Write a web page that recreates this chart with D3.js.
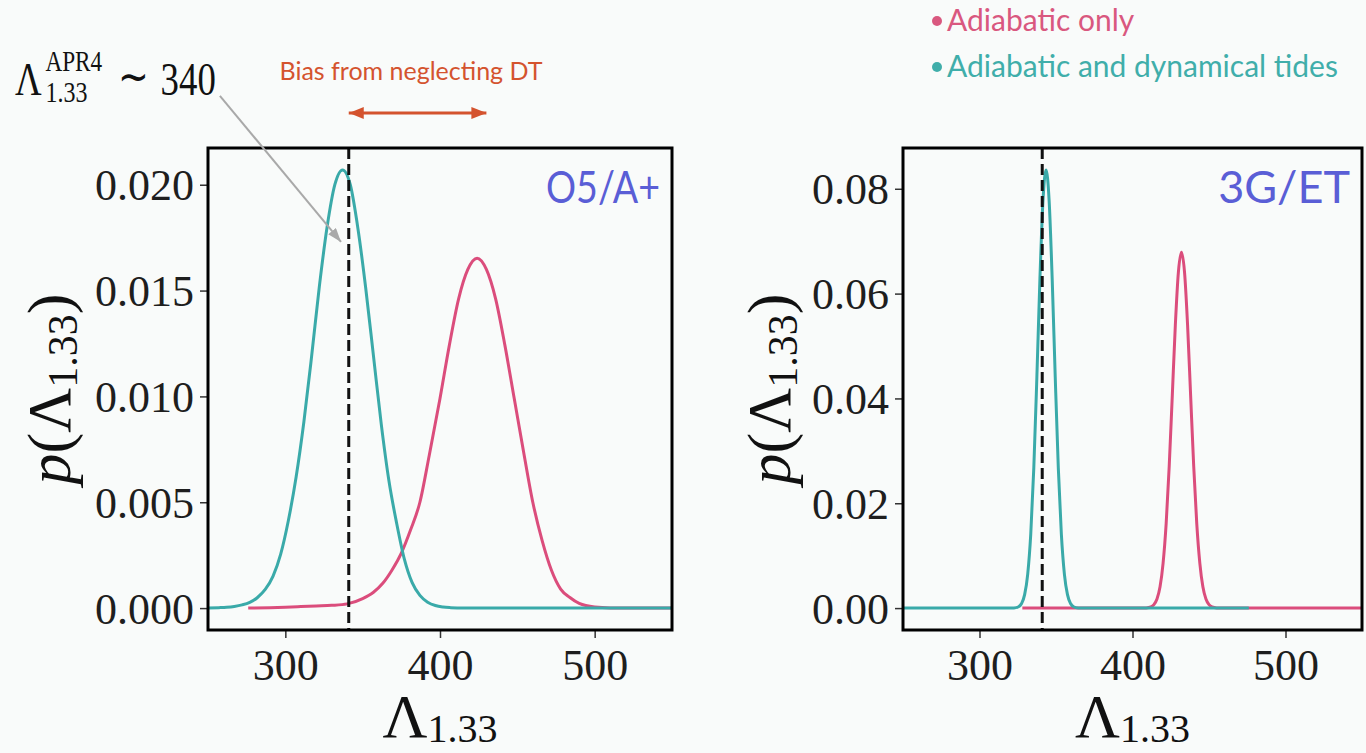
<!DOCTYPE html>
<html>
<head>
<meta charset="utf-8">
<script src="https://cdn.jsdelivr.net/npm/d3@7"></script>
<style>
  body { margin: 0; background: #f9fbfa; }
  svg { display: block; }
  .tick text { font-family: "Liberation Serif", serif; font-size: 44px; fill: #1e1e1e; }
  .tick line { stroke: #333; stroke-width: 1.5; }
  .math { font-family: "Liberation Serif", serif; fill: #111; }
  .sans { font-family: Lato, "Noto Sans", sans-serif; }
</style>
</head>
<body>
<div id="wrapper"></div>
<script>

// 1. Data

const lambdaDomain = [250, 550];
const lambdaTicks = [300, 400, 500];
const apr4Lambda = 341;            // Λ_1.33^APR4 ~ 340 (dashed line)
const biasRange = [341, 430];      // "Bias from neglecting DT" arrow

// O5/A+ : adiabatic + dynamical tides (teal)
const o5TidalLambda = [250, 257, 262, 267, 272, 277, 282, 287, 292, 297, 302, 307, 312, 317, 322, 327,
  332, 337, 342, 347, 352, 357, 362, 367, 372, 377, 382, 387, 392, 397, 402, 407, 415, 550];
const o5TidalDensity = [0, 0.00002, 0.00004, 0.00008, 0.00015, 0.00027, 0.00050, 0.00088, 0.00150,
  0.00255, 0.00415, 0.00620, 0.00880, 0.01190, 0.01520, 0.01800, 0.02000, 0.02070, 0.02000, 0.01790,
  0.01510, 0.01190, 0.00870, 0.00600, 0.00400, 0.00230, 0.00120, 0.00060, 0.00028, 0.00012, 0.00005,
  0.00002, 0, 0];

// O5/A+ : adiabatic only (pink)
const o5AdiabaticLambda = [276, 290, 300, 310, 320, 330, 340, 350, 357, 363, 369, 375, 381, 387, 393,
  400, 406, 412, 418, 424, 430, 436, 442, 448, 454, 460, 466, 472, 478, 484, 490, 500, 510, 550];
const o5AdiabaticDensity = [0, 0.00002, 0.00004, 0.00007, 0.00010, 0.00013, 0.00020, 0.00045, 0.00075,
  0.00117, 0.00180, 0.00260, 0.00370, 0.00500, 0.00720, 0.00990, 0.01240, 0.01460, 0.01600, 0.01653,
  0.01600, 0.01460, 0.01240, 0.00990, 0.00740, 0.00500, 0.00320, 0.00180, 0.00090, 0.00050, 0.00022,
  0.00005, 0.00001, 0];

// 3G/ET : adiabatic + dynamical tides (teal)
const etTidalLambda = [250, 320, 322.5, 325.5, 327.5, 329.5, 331.5, 333.5, 335.5, 337.5, 339.5, 341.5,
  343.5, 345.5, 347.5, 349.5, 351.5, 353.5, 355.5, 357.5, 359.5, 361.5, 364.5, 370, 476];
const etTidalDensity = [0, 0, 0.00003, 0.00026, 0.00088, 0.00256, 0.00645, 0.0141, 0.0268, 0.0441,
  0.0629, 0.0778, 0.0836, 0.0778, 0.0629, 0.0441, 0.0268, 0.0141, 0.00645, 0.00256, 0.00088, 0.00026,
  0.00003, 0, 0];

// 3G/ET : adiabatic only (pink)
const etAdiabaticLambda = [328, 400, 409, 412, 414, 416, 418, 420, 422, 424, 426, 428, 430, 432, 434,
  436, 438, 440, 442, 444, 446, 448, 450, 452, 455, 465, 550];
const etAdiabaticDensity = [0, 0, 0.00004, 0.00022, 0.00065, 0.00172, 0.00406, 0.00858, 0.0161, 0.0271,
  0.0405, 0.0540, 0.0641, 0.0679, 0.0641, 0.0540, 0.0405, 0.0271, 0.0161, 0.00858, 0.00406, 0.00172,
  0.00065, 0.00022, 0.00004, 0, 0];

const o5DensityTicks = [0, 0.005, 0.010, 0.015, 0.020];
const etDensityTicks = [0, 0.02, 0.04, 0.06, 0.08];

const legendLabels = ["Adiabatic only", "Adiabatic and dynamical tides"];

function drawChart() {

  // 2. Dimensions

  const dimensions = {
    width: 1366,
    height: 753,
    top: 148,
    bottom: 630,
  };

  const colors = {
    adiabatic: "#db4d7c",
    tidal: "#3aaaa9",
    legendAdiabatic: "#d9587f",
    legendTidal: "#40aeaa",
    title: "#5a5ed6",
    bias: "#d4532e",
    pointer: "#a9a9a9",
  };

  const panels = [
    {
      left: 208, right: 672, title: "O5/A+", titleWidth: 114, yTicks: o5DensityTicks, yFormat: ".3f", labelX: 70,
      series: [
        { lambda: o5AdiabaticLambda, density: o5AdiabaticDensity, color: colors.adiabatic },
        { lambda: o5TidalLambda, density: o5TidalDensity, color: colors.tidal },
      ],
    },
    {
      left: 903, right: 1362, title: "3G/ET", titleWidth: null, yTicks: etDensityTicks, yFormat: ".2f", labelX: 790,
      series: [
        { lambda: etAdiabaticLambda, density: etAdiabaticDensity, color: colors.adiabatic },
        { lambda: etTidalLambda, density: etTidalDensity, color: colors.tidal },
      ],
    },
  ];

  // 3. Canvas

  const wrapper = d3.select("#wrapper")
    .append("svg")
    .attr("width", dimensions.width)
    .attr("height", dimensions.height);

  wrapper.append("rect")
    .attr("width", dimensions.width)
    .attr("height", dimensions.height)
    .attr("fill", "#f9fbfa");

  const defs = wrapper.append("defs");
  const addMarker = (id, color, len, half) => {
    defs.append("marker")
      .attr("id", id)
      .attr("markerUnits", "userSpaceOnUse")
      .attr("markerWidth", len)
      .attr("markerHeight", half * 2)
      .attr("refX", len)
      .attr("refY", half)
      .attr("orient", "auto-start-reverse")
      .append("path")
      .attr("d", `M0,0 L${len},${half} L0,${half * 2} Z`)
      .attr("fill", color);
  };
  addMarker("bias-head", colors.bias, 15, 6);
  addMarker("pointer-head", colors.pointer, 14, 5);

  let leftScales;

  panels.forEach((panel, i) => {

    // 4. Scales

    const xScale = d3.scaleLinear()
      .domain(lambdaDomain)
      .range([panel.left, panel.right]);

    // matplotlib-style 5% margins around the data
    const peak = d3.max(panel.series, s => d3.max(s.density));
    const yScale = d3.scaleLinear()
      .domain([-0.05 * peak, 1.05 * peak])
      .range([dimensions.bottom, dimensions.top]);

    if (i === 0) leftScales = { xScale, yScale };

    const bounds = wrapper.append("g");

    // 5. Draw data

    const lineGenerator = d3.line()
      .x(d => xScale(d[0]))
      .y(d => yScale(d[1]))
      .curve(d3.curveMonotoneX);

    panel.series.forEach(s => {
      bounds.append("path")
        .attr("d", lineGenerator(d3.zip(s.lambda, s.density)))
        .attr("fill", "none")
        .attr("stroke", s.color)
        .attr("stroke-width", 3)
        .attr("stroke-linejoin", "round");
    });

    bounds.append("line")
      .attr("x1", xScale(apr4Lambda))
      .attr("x2", xScale(apr4Lambda))
      .attr("y1", dimensions.top)
      .attr("y2", dimensions.bottom)
      .attr("stroke", "#111")
      .attr("stroke-width", 3)
      .attr("stroke-dasharray", "11,5");

    // 6. Peripherals

    const xAxis = bounds.append("g")
      .attr("transform", `translate(0, ${dimensions.bottom})`)
      .call(d3.axisBottom(xScale).tickValues(lambdaTicks).tickSize(8).tickPadding(11));
    xAxis.select(".domain").remove();

    const yAxis = bounds.append("g")
      .attr("transform", `translate(${panel.left}, 0)`)
      .call(d3.axisLeft(yScale).tickValues(panel.yTicks).tickSize(8).tickPadding(6)
        .tickFormat(d3.format(panel.yFormat)));
    yAxis.select(".domain").remove();
    yAxis.selectAll("text").attr("dy", "0.34em");

    bounds.append("rect")
      .attr("x", panel.left)
      .attr("y", dimensions.top)
      .attr("width", panel.right - panel.left)
      .attr("height", dimensions.bottom - dimensions.top)
      .attr("fill", "none")
      .attr("stroke", "#000")
      .attr("stroke-width", 3);

    const title = bounds.append("text")
      .attr("class", "sans")
      .attr("x", panel.right - 12)
      .attr("y", 203)
      .attr("text-anchor", "end")
      .attr("font-size", 45)
      .attr("fill", colors.title)
      .text(panel.title);
    if (panel.titleWidth) {
      title.attr("textLength", panel.titleWidth).attr("lengthAdjust", "spacingAndGlyphs");
    }

    const xLabel = bounds.append("text")
      .attr("class", "math")
      .attr("x", (panel.left + panel.right) / 2)
      .attr("y", 737)
      .attr("text-anchor", "middle");
    xLabel.append("tspan").attr("font-size", 62).text("Λ");
    xLabel.append("tspan").attr("font-size", 40).attr("dy", 5).text("1.33");

    const yLabel = bounds.append("text")
      .attr("class", "math")
      .attr("transform", `translate(${panel.labelX}, ${(dimensions.top + dimensions.bottom) / 2}) rotate(-90)`)
      .attr("text-anchor", "middle");
    yLabel.append("tspan").attr("font-size", 62).attr("font-style", "italic").text("p");
    yLabel.append("tspan").attr("font-size", 62).text("(Λ");
    yLabel.append("tspan").attr("font-size", 42).attr("dy", 7).text("1.33");
    yLabel.append("tspan").attr("font-size", 62).attr("dy", -7).text(")");
  });

  // 7. Annotations

  const { xScale, yScale } = leftScales;

  // grey pointer to the APR4 value
  wrapper.append("line")
    .attr("x1", xScale(257.7))
    .attr("y1", yScale(0.0242))
    .attr("x2", xScale(336))
    .attr("y2", yScale(0.0173))
    .attr("stroke", colors.pointer)
    .attr("stroke-width", 2)
    .attr("marker-end", "url(#pointer-head)");

  const apr4 = wrapper.append("g")
    .attr("class", "math")
    .attr("transform", "translate(15, 0) scale(0.8, 1)");
  apr4.append("text").attr("x", 0).attr("y", 95).attr("font-size", 46).text("Λ");
  apr4.append("text").attr("x", 38).attr("y", 71).attr("font-size", 29).text("APR4");
  apr4.append("text").attr("x", 38).attr("y", 102).attr("font-size", 30).text("1.33");
  apr4.append("text").attr("x", 129).attr("y", 92).attr("font-size", 46).text("∼");
  apr4.append("text").attr("x", 182).attr("y", 95).attr("font-size", 46).text("340");

  wrapper.append("text")
    .attr("class", "sans")
    .attr("x", 411)
    .attr("y", 80)
    .attr("text-anchor", "middle")
    .attr("font-size", 25)
    .attr("fill", colors.bias)
    .text("Bias from neglecting DT");

  wrapper.append("line")
    .attr("x1", xScale(biasRange[0]))
    .attr("x2", xScale(biasRange[1]))
    .attr("y1", 113)
    .attr("y2", 113)
    .attr("stroke", colors.bias)
    .attr("stroke-width", 3)
    .attr("marker-start", "url(#bias-head)")
    .attr("marker-end", "url(#bias-head)");

  // legend
  const legendColors = [colors.legendAdiabatic, colors.legendTidal];
  const legend = wrapper.append("g");
  legendLabels.forEach((label, i) => {
    const y = 31 + i * 46;
    legend.append("circle")
      .attr("cx", 937)
      .attr("cy", y - 10)
      .attr("r", 5)
      .attr("fill", legendColors[i]);
    legend.append("text")
      .attr("class", "sans")
      .attr("x", 947)
      .attr("y", y)
      .attr("font-size", 30)
      .attr("fill", legendColors[i])
      .text(label);
  });
}

drawChart();
</script>
</body>
</html>
